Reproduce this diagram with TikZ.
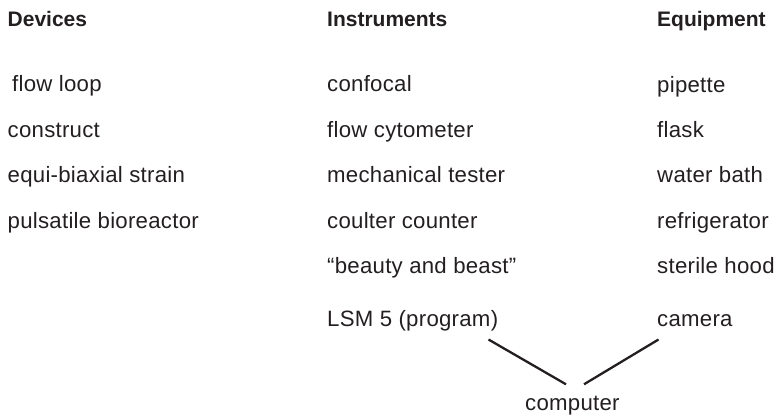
\documentclass[tikz,border=0pt]{standalone}
\usepackage{fontspec}
\setmainfont{Liberation Sans}
\newfontfamily\itemfont[LetterSpace=1.2]{Liberation Sans}
\definecolor{ink}{HTML}{231F20}
\begin{document}
\begin{tikzpicture}[x=1pt,y=-1pt,
  head/.style={anchor=base west,inner sep=0pt,text=ink,font=\fontsize{21}{24}\selectfont\bfseries},
  item/.style={anchor=base west,inner sep=0pt,text=ink,font=\itemfont\fontsize{22.2}{26}\selectfont},
  link/.style={draw=ink,line width=2.3pt}]
\useasboundingbox (0,0) rectangle (779,418);

% column headings
\node[head] (hdev)  at (7.5,26)  {Devices};
\node[head] (hins)  at (327,26)  {Instruments};
\node[head] (hequ)  at (657,26)  {Equipment};

% devices
\node[item] (d1) at (12,91)  {flow loop};
\node[item] (d2) at (7.5,137) {construct};
\node[item] (d3) at (7.5,182) {equi-biaxial strain};
\node[item] (d4) at (7.5,228) {pulsatile bioreactor};

% instruments
\node[item] (i1) at (327,91)  {confocal};
\node[item] (i2) at (327,137) {flow cytometer};
\node[item] (i3) at (327,182) {mechanical tester};
\node[item] (i4) at (327,228) {coulter counter};
\node[item] (i5) at (327,273) {“beauty and beast”};
\node[item] (lsm) at (327,326) {LSM 5 (program)};

% equipment
\node[item] (e1) at (657,92)  {pipette};
\node[item] (e2) at (657,137) {flask};
\node[item] (e3) at (657,182) {water bath};
\node[item] (e4) at (657,228) {refrigerator};
\node[item] (e5) at (657,273) {sterile hood};
\node[item] (cam) at (657,326) {camera};

% shared computer
\node[item] (comp) at (525,410) {computer};

% connector end points
\coordinate (lsmfoot) at (488.5,339.5);
\coordinate (camfoot) at (658.5,339.5);
\coordinate (compl)   at (566,384.3);
\coordinate (compr)   at (584,384.3);

\draw[link] (lsmfoot) -- (compl);
\draw[link] (camfoot) -- (compr);
\end{tikzpicture}
\end{document}
